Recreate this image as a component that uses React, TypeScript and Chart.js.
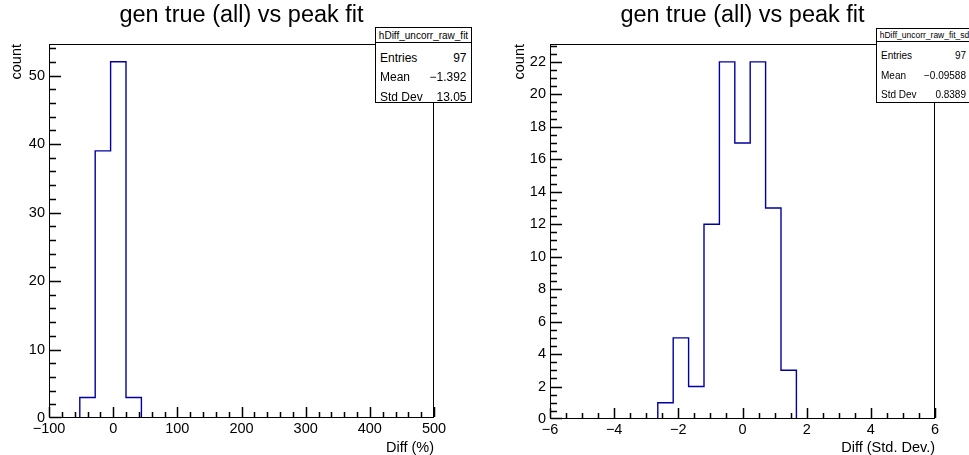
import React, { useEffect, useRef } from "react";
import { Chart, registerables } from "chart.js";

Chart.register(...registerables);

const FONT = '"Liberation Sans", Arial, Helvetica, sans-serif';
const HIST_COLOR = "#0000a0";

const chartTitle = "gen true (all) vs peak fit";
const statLabels = ["Entries", "Mean", "Std Dev"];

// ---- left histogram ----
const leftName = "hDiff_uncorr_raw_fit";
const leftXTitle = "Diff (%)";
const leftYTitle = "count";
const leftXRange = [-100, 500];
const leftCounts = [0, 0, 3, 39, 52, 3, 0, 0, 0, 0, 0, 0, 0, 0, 0, 0, 0, 0, 0, 0, 0, 0, 0, 0, 0];
const leftYMax = 54.6;
const leftXTicks = [-100, 0, 100, 200, 300, 400, 500];
const leftYTicks = [0, 10, 20, 30, 40, 50];
const leftStatsValues = ["97", "\u22121.392", "13.05"];

// ---- right histogram ----
const rightName = "hDiff_uncorr_raw_fit_sd";
const rightXTitle = "Diff (Std. Dev.)";
const rightYTitle = "count";
const rightXRange = [-6, 6];
const rightCounts = [0, 0, 0, 0, 0, 0, 0, 1, 5, 2, 12, 22, 17, 22, 13, 3, 0, 0, 0, 0, 0, 0, 0, 0, 0];
const rightYMax = 23.1;
const rightXTicks = [-6, -4, -2, 0, 2, 4, 6];
const rightYTicks = [0, 2, 4, 6, 8, 10, 12, 14, 16, 18, 20, 22];
const rightStatsValues = ["97", "\u22120.09588", "0.8389"];

const fmt = (v: number) => (v < 0 ? "\u2212" + String(Math.abs(v)) : String(v));

type PanelCfg = {
  counts: number[];
  xRange: number[];
  yMax: number;
  xTicks: number[];
  yTicks: number[];
  xTitle: string;
  yTitle: string;
  yAxisW: number;
  xAxisH: number;
  padRight: number;
  yTitlePad: number;
  xDiv: number;
  yDiv: number;
};

function makeFramePlugin(p: PanelCfg) {
  const xMajor = 10;
  const xMinor = 5;
  const yMajor = 11;
  const yMinor = 6;
  const th = 1.5;
  return {
    id: "rootFrame",
    afterDraw(chart: any) {
      const ctx = chart.ctx as CanvasRenderingContext2D;
      const ca = chart.chartArea;
      const L = Math.round(ca.left);
      const R = Math.round(ca.right);
      const T = Math.round(ca.top);
      const B = Math.round(ca.bottom);
      const xs = chart.scales.x;
      const ys = chart.scales.y;
      ctx.save();
      ctx.fillStyle = "#000000";
      ctx.fillRect(L, T, R - L, 1);
      ctx.fillRect(L, B - 1, R - L, 1);
      ctx.fillRect(L, T, 1, B - T);
      ctx.fillRect(R - 1, T, 1, B - T);
      const tickX = (v: number, len: number) => {
        const px = Math.round(xs.getPixelForValue(v));
        ctx.fillRect(px + 0.5 - th / 2, B - 1 - len, th, len);
      };
      const tickY = (v: number, len: number) => {
        const py = Math.min(Math.round(ys.getPixelForValue(v)), B - 1);
        ctx.fillRect(L + 1, py + 0.5 - th / 2, len, th);
      };
      const xt = p.xTicks;
      const xStep = xt[1] - xt[0];
      xt.forEach((t) => {
        tickX(t, xMajor);
        for (let k = 1; k < p.xDiv; k++) {
          const v = t + (k * xStep) / p.xDiv;
          if (v < p.xRange[1]) tickX(v, xMinor);
        }
      });
      const yt = p.yTicks;
      const yStep = yt[1] - yt[0];
      yt.forEach((t) => {
        tickY(t, yMajor);
        for (let k = 1; k < p.yDiv; k++) {
          const v = t + (k * yStep) / p.yDiv;
          if (v < p.yMax) tickY(v, yMinor);
        }
      });
      ctx.restore();
    },
  };
}

function makeConfig(p: PanelCfg): any {
  const n = p.counts.length;
  const bw = (p.xRange[1] - p.xRange[0]) / n;
  const pts = p.counts.map((c, i) => ({ x: p.xRange[0] + i * bw, y: c }));
  pts.push({ x: p.xRange[1], y: p.counts[n - 1] });
  const tickFont = { family: FONT, size: 14.5 };
  const titleFont = { family: FONT, size: 14.5, lineHeight: 1 };
  return {
    type: "line",
    data: {
      datasets: [
        {
          data: pts,
          borderColor: HIST_COLOR,
          borderWidth: 1.4,
          pointRadius: 0,
          stepped: true,
          fill: false,
          tension: 0,
        },
      ],
    },
    options: {
      responsive: false,
      animation: false,
      devicePixelRatio: 1,
      layout: { padding: { top: 0, left: 0, bottom: 0, right: p.padRight } },
      plugins: {
        legend: { display: false },
        tooltip: { enabled: false },
        title: {
          display: true,
          text: chartTitle,
          fullSize: false,
          color: "#000",
          font: { family: FONT, size: 23.5, weight: "normal", lineHeight: 1.2 },
          padding: { top: 1, bottom: 14.8 },
        },
      },
      scales: {
        x: {
          type: "linear",
          min: p.xRange[0],
          max: p.xRange[1],
          grid: { display: false, drawTicks: false },
          border: { display: false },
          ticks: {
            font: tickFont,
            color: "#000",
            padding: 2,
            maxRotation: 0,
            autoSkip: false,
            includeBounds: false,
            callback: (v: number) => fmt(v),
          },
          afterBuildTicks: (s: any) => {
            s.ticks = p.xTicks.map((v) => ({ value: v }));
          },
          afterFit: (s: any) => {
            s.height = p.xAxisH;
          },
          title: {
            display: true,
            text: p.xTitle,
            align: "end",
            color: "#000",
            font: titleFont,
            padding: { top: 0, bottom: 0 },
          },
        },
        y: {
          type: "linear",
          min: 0,
          max: p.yMax,
          grid: { display: false, drawTicks: false },
          border: { display: false },
          ticks: {
            font: tickFont,
            color: "#000",
            padding: 4,
            autoSkip: false,
            includeBounds: false,
            callback: (v: number) => fmt(v),
          },
          afterBuildTicks: (s: any) => {
            s.ticks = p.yTicks.map((v) => ({ value: v }));
          },
          afterFit: (s: any) => {
            s.width = p.yAxisW;
          },
          title: {
            display: true,
            text: p.yTitle,
            align: "end",
            color: "#000",
            font: titleFont,
            padding: { top: p.yTitlePad, bottom: 0 },
          },
        },
      },
    },
    plugins: [makeFramePlugin(p)],
  };
}

type BoxProps = {
  left: number;
  top: number;
  width: number;
  height: number;
  headH: number;
  name: string;
  nameSize: number;
  rowSize: number;
  rowYs: number[];
  values: string[];
  padL: number;
  padR: number;
};

function StatsBox(b: BoxProps) {
  return (
    <div
      style={{
        position: "absolute",
        left: b.left,
        top: b.top,
        width: b.width,
        height: b.height,
        border: "1px solid #000",
        boxSizing: "border-box",
        background: "#fff",
        fontFamily: FONT,
        color: "#000",
      }}
    >
      <div
        style={{
          position: "absolute",
          left: 0,
          right: 0,
          top: 0,
          height: b.headH,
          borderBottom: "1px solid #000",
          fontSize: b.nameSize,
          display: "flex",
          alignItems: "center",
          justifyContent: "center",
          whiteSpace: "nowrap",
          overflow: "hidden",
        }}
      >
        {b.name}
      </div>
      {statLabels.map((l, i) => (
        <div
          key={l}
          style={{
            position: "absolute",
            left: b.padL,
            right: b.padR,
            top: b.rowYs[i] - 10,
            height: 20,
            display: "flex",
            alignItems: "center",
            justifyContent: "space-between",
            fontSize: b.rowSize,
            whiteSpace: "nowrap",
          }}
        >
          <span>{l}</span>
          <span>{b.values[i]}</span>
        </div>
      ))}
    </div>
  );
}

export default function App() {
  const leftRef = useRef<HTMLCanvasElement | null>(null);
  const rightRef = useRef<HTMLCanvasElement | null>(null);

  useEffect(() => {
    const c1 = new Chart(
      leftRef.current as HTMLCanvasElement,
      makeConfig({
        counts: leftCounts,
        xRange: leftXRange,
        yMax: leftYMax,
        xTicks: leftXTicks,
        yTicks: leftYTicks,
        xTitle: leftXTitle,
        yTitle: leftYTitle,
        yAxisW: 49,
        xAxisH: 37,
        padRight: 51,
        yTitlePad: 10,
        xDiv: 5,
        yDiv: 5,
      })
    );
    const c2 = new Chart(
      rightRef.current as HTMLCanvasElement,
      makeConfig({
        counts: rightCounts,
        xRange: rightXRange,
        yMax: rightYMax,
        xTicks: rightXTicks,
        yTicks: rightYTicks,
        xTitle: rightXTitle,
        yTitle: rightYTitle,
        yAxisW: 65,
        xAxisH: 36,
        padRight: 34,
        yTitlePad: 28,
        xDiv: 4,
        yDiv: 4,
      })
    );
    return () => {
      c1.destroy();
      c2.destroy();
    };
  }, []);

  return (
    <div
      style={{
        position: "fixed",
        left: 0,
        top: 0,
        width: 969,
        height: 455,
        background: "#fff",
        overflow: "hidden",
      }}
    >
      <canvas
        ref={leftRef}
        width={485}
        height={455}
        style={{ position: "absolute", left: 0, top: 0, width: 485, height: 455 }}
      />
      <canvas
        ref={rightRef}
        width={484}
        height={455}
        style={{ position: "absolute", left: 485, top: 0, width: 484, height: 455 }}
      />
      <StatsBox
        left={375}
        top={27}
        width={97}
        height={76}
        headH={14}
        name={leftName}
        nameSize={10}
        rowSize={12}
        rowYs={[29.7, 49.3, 68.7]}
        values={leftStatsValues}
        padL={4}
        padR={4.5}
      />
      <StatsBox
        left={876}
        top={28}
        width={97}
        height={75}
        headH={12}
        name={rightName}
        nameSize={8.5}
        rowSize={10}
        rowYs={[26, 46, 65]}
        values={rightStatsValues}
        padL={4}
        padR={6}
      />
    </div>
  );
}
